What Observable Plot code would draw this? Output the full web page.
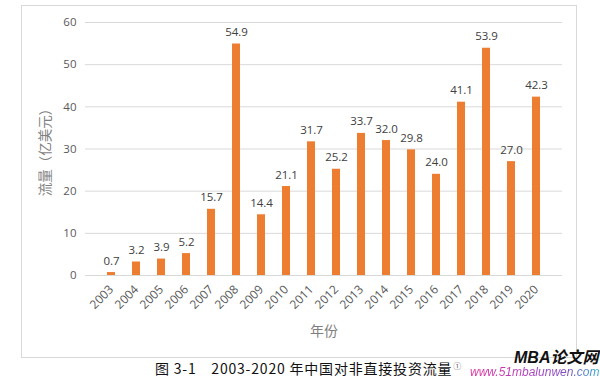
<!DOCTYPE html>
<html><head><meta charset="utf-8">
<script src="https://cdn.jsdelivr.net/npm/d3@7"></script>
<script src="https://cdn.jsdelivr.net/npm/@observablehq/plot@0.6"></script>
<style>
body{margin:0;background:#fff;width:600px;height:379px;overflow:hidden;position:relative;font-family:"Open Sans","Noto Sans CJK SC",sans-serif}
#frame{position:absolute;left:21px;top:5px;width:556px;height:353px;border:1px solid #d9d9d9;box-sizing:border-box}
#chart{position:absolute;left:0;top:0}
#cap{position:absolute;left:155px;top:361px;font-size:14px;line-height:15px;letter-spacing:0.8px;color:#111;font-family:"Noto Sans CJK SC",sans-serif;white-space:nowrap}
#cap span{font-size:8px;color:#666;letter-spacing:0;position:relative;top:-5px;margin-left:1px}
#wm1{position:absolute;left:514px;top:349px;font:italic bold 16px/17px "Liberation Sans","Noto Sans CJK SC",sans-serif;color:#111;white-space:nowrap}
#wm2{position:absolute;left:470px;top:366px;font:italic 12px/12px "Liberation Sans",sans-serif;white-space:nowrap;background:linear-gradient(90deg,#e0309a,#b040c0 45%,#8050c0 75%,#30b0d0);-webkit-background-clip:text;background-clip:text;color:transparent}
</style></head><body>
<div id="frame"></div>
<div id="chart"></div>
<div id="cap">图 3-1　2003-2020 年中国对非直接投资流量<span>①</span></div>
<div id="wm1">MBA论文网</div>
<div id="wm2">www.51mbalunwen.com</div>
<script>
const years = ["2003","2004","2005","2006","2007","2008","2009","2010","2011","2012","2013","2014","2015","2016","2017","2018","2019","2020"];
const flows = [0.7,3.2,3.9,5.2,15.7,54.9,14.4,21.1,31.7,25.2,33.7,32.0,29.8,24.0,41.1,53.9,27.0,42.3];
const yTicks = [0,10,20,30,40,50,60];
const data = years.map((y,i)=>({year:y, value:flows[i]}));
const chart = Plot.plot({
  width:600, height:360,
  marginLeft:85, marginRight:38, marginTop:22, marginBottom:85,
  style:{fontFamily:'"Open Sans","Noto Sans CJK SC",sans-serif', fontSize:"11px", color:"#595959", background:"transparent"},
  x:{domain:years, padding:0.67, label:null},
  y:{domain:[0,60], label:null},
  marks:[
    Plot.gridY(yTicks,{stroke:"#d9d9d9", strokeOpacity:1, strokeWidth:1}),
    Plot.barY(data,{x:"year", y:"value", fill:"#ED7D31"}),
    Plot.text(data,{x:"year", y:"value", text:d=>d.value.toFixed(1), dy:-8, lineAnchor:"bottom", fill:"#404040", fontSize:11.5}),
    Plot.axisY(yTicks,{tickSize:0, tickPadding:9, fontSize:11.5, fill:"#595959", label:null}),
    Plot.axisX({tickSize:0, tickRotate:-45, tickPadding:12, fontSize:12, fill:"#595959", label:null}),
    Plot.text(["流量（亿美元）"],{frameAnchor:"left", textAnchor:"middle", dx:-40, rotate:-90, fontSize:13.5, fill:"#7f7f7f"}),
    Plot.text(["年份"],{frameAnchor:"bottom", dy:60, fontSize:14, fill:"#7f7f7f"})
  ]
});
document.getElementById("chart").append(chart);
</script>
</body></html>
